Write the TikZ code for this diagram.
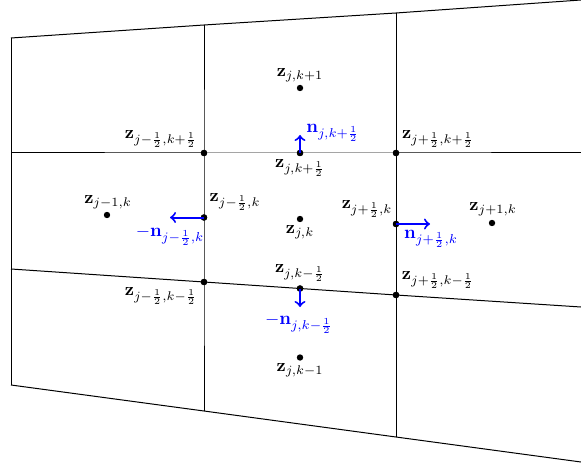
\documentclass[tikz,border=0pt]{standalone}
\usepackage{amsmath}
\begin{document}
\begin{tikzpicture}[x=0.5pt,y=-0.5pt,
  gridline/.style={black,line width=0.5pt},
  dot/.style={circle,fill=black,inner sep=0pt,minimum size=3.2pt},
  lbl/.style={black,inner sep=0pt,scale=0.9},
  nlbl/.style={blue,inner sep=0pt,scale=0.92},
  normalvec/.style={blue,line width=1pt,->}]
\useasboundingbox (0,0) rectangle (581,464);
% grid corners
\coordinate (L1) at (11,38);  \coordinate (L2) at (11,153);  \coordinate (L3) at (11,269);  \coordinate (L4) at (11,385);
\coordinate (M1) at (204,25); \coordinate (M4) at (204,411);
\coordinate (N1) at (396,13); \coordinate (N4) at (396,437);
\coordinate (R1) at (581,0);  \coordinate (R2) at (581,153); \coordinate (R3) at (581,307); \coordinate (R4) at (581,462);
% dots
\node[dot] (mmpp) at (204,153) {};
\node[dot] (zkp)  at (300,153) {};
\node[dot] (ppp)  at (396,153) {};
\node[dot] (mhk)  at (204,217.5) {};
\node[dot] (phk)  at (396,224) {};
\node[dot] (mmm)  at (204,282) {};
\node[dot] (zkm)  at (300,288.5) {};
\node[dot] (ppm)  at (396,295) {};
\node[dot] (zjk)  at (300,219) {};
\node[dot] (zjm)  at (107,215) {};
\node[dot] (zjp)  at (492,223) {};
\node[dot] (zkp1) at (300,88) {};
\node[dot] (zkm1) at (300,357.5) {};
% grid lines
\draw[gridline] (L1) -- (M1) -- (N1) -- (R1);
\draw[gridline] (L2) -- (mmpp.center) -- (zkp.center) -- (ppp.center) -- (R2);
\draw[gridline] (L3) -- (mmm.center) -- (zkm.center) -- (ppm.center) -- (R3);
\draw[gridline] (L4) -- (M4) -- (N4) -- (R4);
\draw[gridline] (L1) -- (L4);
\draw[gridline] (M1) -- (mmpp.center) -- (mhk.center) -- (mmm.center) -- (M4);
\draw[gridline] (N1) -- (ppp.center) -- (phk.center) -- (ppm.center) -- (N4);
% redraw dots on top
\foreach \n in {mmpp,zkp,ppp,mhk,phk,mmm,zkm,ppm} \fill (\n) circle (1.6pt);
% normal vectors
\coordinate (nup) at (300,135);
\coordinate (nleft) at (170,217.5);
\coordinate (nright) at (430,224);
\coordinate (ndown) at (300,307);
\draw[normalvec] (zkp.center) -- (nup);
\draw[normalvec] (mhk.center) -- (nleft);
\draw[normalvec] (phk.center) -- (nright);
\draw[normalvec] (zkm.center) -- (ndown);
% labels
\node[lbl] (t1) at (300,75) {$\mathbf{z}_{j,k+1}$};
\node[lbl] (t2) at (161,139) {$\mathbf{z}_{j-\frac12,k+\frac12}$};
\node[lbl] (t3) at (438,139) {$\mathbf{z}_{j+\frac12,k+\frac12}$};
\node[nlbl] (t4) at (333,133) {$\mathbf{n}_{j,k+\frac12}$};
\node[lbl] (t5) at (300,168) {$\mathbf{z}_{j,k+\frac12}$};
\node[lbl] (t6) at (108,202) {$\mathbf{z}_{j-1,k}$};
\node[lbl] (t7) at (235,202) {$\mathbf{z}_{j-\frac12,k}$};
\node[lbl] (t8) at (367,209) {$\mathbf{z}_{j+\frac12,k}$};
\node[lbl] (t9) at (493,209) {$\mathbf{z}_{j+1,k}$};
\node[nlbl] (t10) at (170,236) {$-\mathbf{n}_{j-\frac12,k}$};
\node[lbl] (t11) at (300,232) {$\mathbf{z}_{j,k}$};
\node[nlbl] (t12) at (431,239) {$\mathbf{n}_{j+\frac12,k}$};
\node[lbl] (t13) at (300,273) {$\mathbf{z}_{j,k-\frac12}$};
\node[lbl] (t14) at (438,280) {$\mathbf{z}_{j+\frac12,k-\frac12}$};
\node[lbl] (t15) at (161,296) {$\mathbf{z}_{j-\frac12,k-\frac12}$};
\node[nlbl] (t16) at (299,324) {$-\mathbf{n}_{j,k-\frac12}$};
\node[lbl] (t17) at (300,370) {$\mathbf{z}_{j,k-1}$};
\end{tikzpicture}
\end{document}
